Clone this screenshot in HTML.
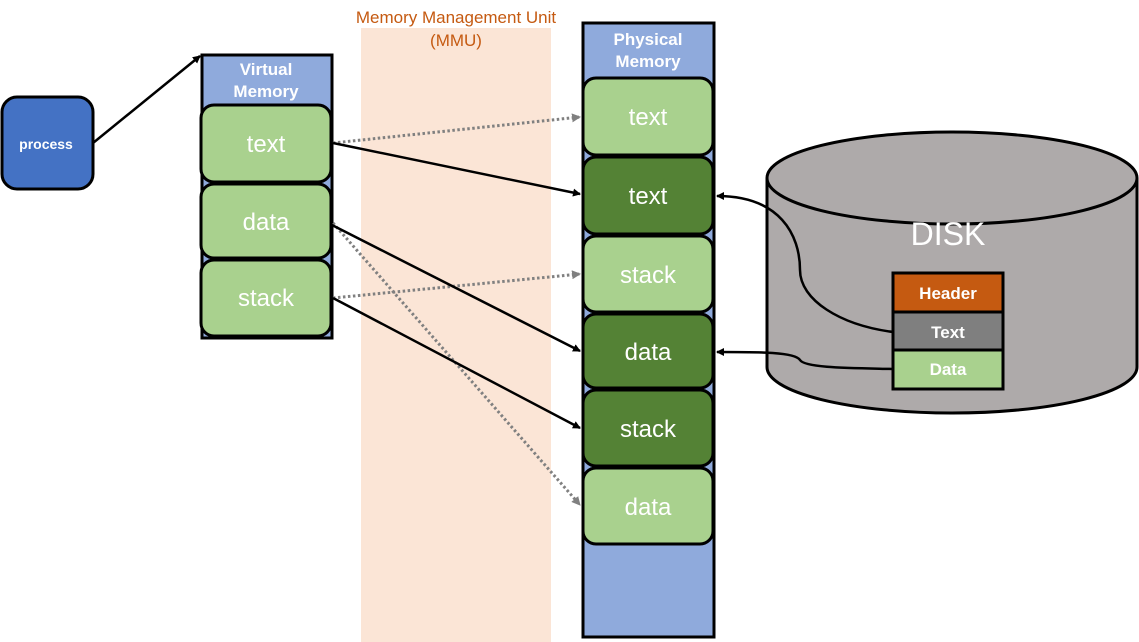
<!DOCTYPE html>
<html><head><meta charset="utf-8"><style>
html,body{margin:0;padding:0;background:#fff;}
svg{display:block;font-family:"Liberation Sans","Noto Sans CJK KR",sans-serif;}
</style></head><body>
<svg width="1139" height="642" viewBox="0 0 1139 642" xmlns="http://www.w3.org/2000/svg">
<defs>
<marker id="a" markerWidth="8" markerHeight="8" refX="7" refY="4" orient="auto" markerUnits="userSpaceOnUse"><path d="M0,0 L8,4 L0,8 z" fill="#000"/></marker>
<marker id="g" markerWidth="9" markerHeight="9" refX="8" refY="4.5" orient="auto" markerUnits="userSpaceOnUse"><path d="M0,0 L9,4.5 L0,9 z" fill="#808080"/></marker>
</defs>
<rect x="361" y="28" width="190" height="614" fill="#FBE5D6"/>
<text x="456" y="23" font-size="17" fill="#C55A11" text-anchor="middle">Memory Management Unit</text>
<text x="456" y="46" font-size="17" fill="#C55A11" text-anchor="middle">(MMU)</text>

<rect x="2" y="97" width="91" height="92" rx="15" fill="#4472C4" stroke="#000" stroke-width="3"/>
<text x="46" y="149" font-size="14" fill="#fff" text-anchor="middle" font-weight="bold">process</text>
<line x1="93" y1="143" x2="200" y2="56" stroke="#000" stroke-width="2.5" marker-end="url(#a)"/>

<rect x="202" y="55" width="130" height="283" fill="#8FAADC" stroke="#000" stroke-width="3"/>
<text x="266" y="75" font-size="17" fill="#fff" text-anchor="middle" font-weight="bold">Virtual</text>
<text x="266" y="97" font-size="17" fill="#fff" text-anchor="middle" font-weight="bold">Memory</text>
<g stroke="#000" stroke-width="3" fill="#A9D18E">
<rect x="201" y="105" width="130" height="77" rx="13"/>
<rect x="201" y="184" width="130" height="74" rx="13"/>
<rect x="201" y="260" width="130" height="76" rx="13"/>
</g>
<g font-size="24" fill="#fff" text-anchor="middle">
<text x="266" y="152">text</text>
<text x="266" y="230">data</text>
<text x="266" y="306">stack</text>
</g>

<rect x="583" y="23" width="131" height="614" fill="#8FAADC" stroke="#000" stroke-width="3"/>
<text x="648" y="45" font-size="17" fill="#fff" text-anchor="middle" font-weight="bold">Physical</text>
<text x="648" y="67" font-size="17" fill="#fff" text-anchor="middle" font-weight="bold">Memory</text>
<g stroke="#000" stroke-width="3">
<rect x="583" y="78" width="130" height="77" rx="13" fill="#A9D18E"/>
<rect x="583" y="157" width="130" height="77" rx="13" fill="#548235"/>
<rect x="583" y="236" width="130" height="76" rx="13" fill="#A9D18E"/>
<rect x="583" y="314" width="130" height="74" rx="13" fill="#548235"/>
<rect x="583" y="390" width="130" height="76" rx="13" fill="#548235"/>
<rect x="583" y="468" width="130" height="76" rx="13" fill="#A9D18E"/>
</g>
<g font-size="24" fill="#fff" text-anchor="middle">
<text x="648" y="125">text</text>
<text x="648" y="204">text</text>
<text x="648" y="283">stack</text>
<text x="648" y="360">data</text>
<text x="648" y="437">stack</text>
<text x="648" y="515">data</text>
</g>

<g stroke="#808080" stroke-width="3" stroke-dasharray="2.5,2.5" fill="none">
<line x1="333" y1="143" x2="580" y2="117" marker-end="url(#g)"/>
<line x1="333" y1="298" x2="580" y2="274" marker-end="url(#g)"/>
<line x1="333" y1="223" x2="580" y2="505" marker-end="url(#g)"/>
</g>
<g stroke="#000" stroke-width="2.5" fill="none">
<line x1="333" y1="143" x2="580" y2="194" marker-end="url(#a)"/>
<line x1="330" y1="224" x2="580" y2="351" marker-end="url(#a)"/>
<line x1="333" y1="298" x2="580" y2="428" marker-end="url(#a)"/>
</g>

<path d="M767,178 L767,367 A185,46 0 0 0 1137,367 L1137,178" fill="#AEAAAA" stroke="#000" stroke-width="3"/>
<ellipse cx="952" cy="178" rx="185" ry="46" fill="#AEAAAA" stroke="#000" stroke-width="3"/>
<text x="948" y="245" font-size="32" fill="#fff" text-anchor="middle">DISK</text>
<path d="M893,332 C840,325 800,300 800,270 C800,235 780,196 717,196" fill="none" stroke="#000" stroke-width="2.5" marker-end="url(#a)"/>
<path d="M893,369 C850,368 805,368 800,360 C795,352 760,352 717,352" fill="none" stroke="#000" stroke-width="2.5" marker-end="url(#a)"/>
<rect x="893" y="273" width="110" height="39" fill="#C55A11" stroke="#000" stroke-width="3"/>
<rect x="893" y="312" width="110" height="38" fill="#7F7F7F" stroke="#000" stroke-width="3"/>
<rect x="893" y="350" width="110" height="39" fill="#A9D18E" stroke="#000" stroke-width="3"/>
<g font-size="17" fill="#fff" text-anchor="middle" font-weight="bold">
<text x="948" y="299">Header</text>
<text x="948" y="338">Text</text>
<text x="948" y="375">Data</text>
</g>
</svg>
</body></html>
